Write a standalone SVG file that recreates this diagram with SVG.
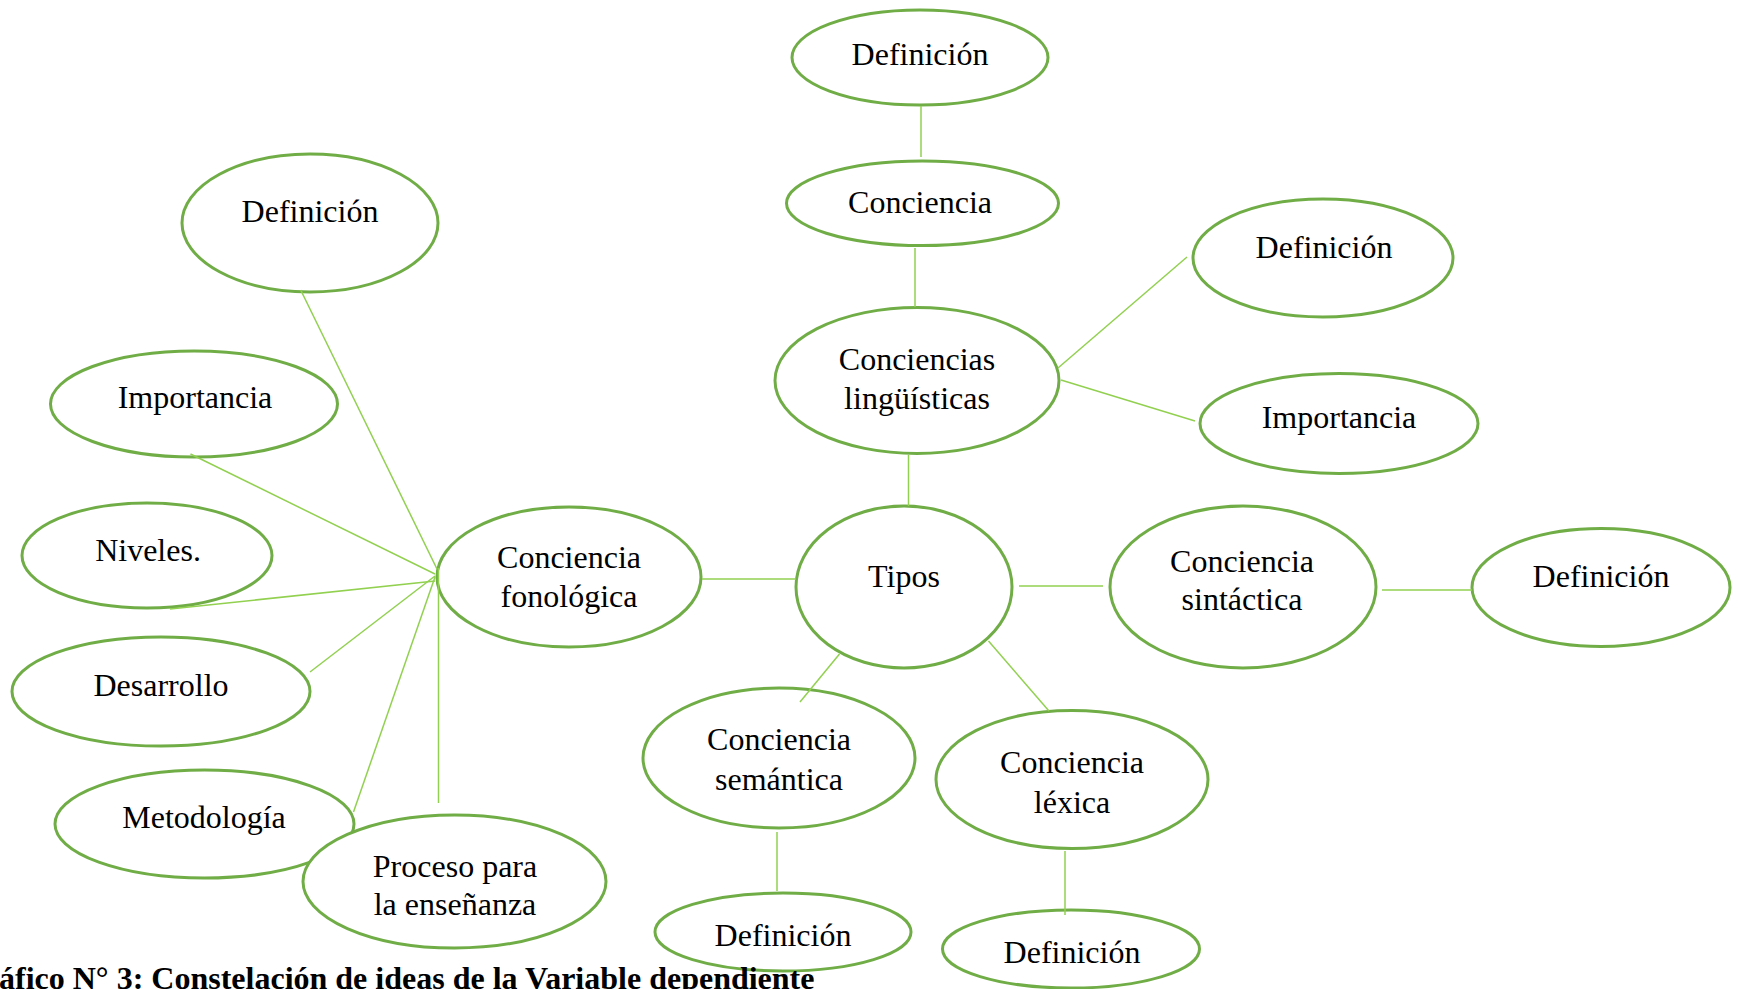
<svg xmlns="http://www.w3.org/2000/svg" width="1738" height="989" viewBox="0 0 1738 989">
<style>
.n ellipse{fill:#ffffff;stroke:#70AD47;stroke-width:3}
.n text{font-family:"Liberation Serif","Times New Roman",serif;font-size:32px;fill:#000000;text-anchor:middle}
.c line{stroke:#92D050;stroke-width:1.5}
.cap{font-family:"Liberation Serif","Times New Roman",serif;font-size:32px;font-weight:bold;fill:#000000}
</style>
<rect x="0" y="0" width="1738" height="989" fill="#ffffff"/>
<g id="nodes">
<g id="def_top" class="n"><ellipse cx="920" cy="57.5" rx="128" ry="47.5"/><text x="920" y="65">Definición</text></g>
<g id="conciencia" class="n"><ellipse cx="922.5" cy="203.3" rx="136" ry="42.3"/><text x="920" y="213">Conciencia</text></g>
<g id="conciencias_ling" class="n"><ellipse cx="917" cy="380.5" rx="142" ry="73"/><text x="917" y="370">Conciencias</text><text x="917" y="409">lingüísticas</text></g>
<g id="def_ling" class="n"><ellipse cx="1323" cy="258" rx="130" ry="59"/><text x="1324" y="258">Definición</text></g>
<g id="imp_ling" class="n"><ellipse cx="1339" cy="423.5" rx="139" ry="50"/><text x="1339" y="428">Importancia</text></g>
<g id="tipos" class="n"><ellipse cx="904" cy="587" rx="108" ry="81"/><text x="904" y="587">Tipos</text></g>
<g id="sintactica" class="n"><ellipse cx="1243" cy="587" rx="133" ry="81"/><text x="1242" y="572">Conciencia</text><text x="1242" y="610">sintáctica</text></g>
<g id="def_sint" class="n"><ellipse cx="1601" cy="587.5" rx="129" ry="59"/><text x="1601" y="587">Definición</text></g>
<g id="fonologica" class="n"><ellipse cx="569" cy="577" rx="132" ry="70"/><text x="569" y="568">Conciencia</text><text x="569" y="607">fonológica</text></g>
<g id="def_fono" class="n"><ellipse cx="310" cy="223" rx="128" ry="69"/><text x="310" y="222">Definición</text></g>
<g id="imp_fono" class="n"><ellipse cx="194" cy="404" rx="143.5" ry="53"/><text x="195" y="408">Importancia</text></g>
<g id="niveles" class="n"><ellipse cx="147" cy="555.5" rx="125" ry="52.5"/><text x="148" y="561">Niveles.</text></g>
<g id="desarrollo" class="n"><ellipse cx="161" cy="691.5" rx="149" ry="54.5"/><text x="161" y="696">Desarrollo</text></g>
<g id="metodologia" class="n"><ellipse cx="204.5" cy="824" rx="149.5" ry="54"/><text x="204" y="828">Metodología</text></g>
<g id="proceso" class="n"><ellipse cx="454.5" cy="881.5" rx="151.5" ry="66.5"/><text x="455" y="877">Proceso para</text><text x="455" y="915">la enseñanza</text></g>
<g id="semantica" class="n"><ellipse cx="779" cy="758" rx="136" ry="70"/><text x="779" y="750">Conciencia</text><text x="779" y="790">semántica</text></g>
<g id="lexica" class="n"><ellipse cx="1072" cy="779.5" rx="136" ry="69"/><text x="1072" y="773">Conciencia</text><text x="1072" y="813">léxica</text></g>
<g id="def_sem" class="n"><ellipse cx="783" cy="932" rx="128" ry="39"/><text x="783" y="946">Definición</text></g>
<g id="def_lex" class="n"><ellipse cx="1071" cy="949" rx="128.5" ry="39"/><text x="1072" y="963">Definición</text></g>
</g>
<g id="connectors" class="c">
<line x1="921" y1="106" x2="921" y2="157"/>
<line x1="915" y1="248" x2="915" y2="307"/>
<line x1="908.5" y1="455" x2="908.5" y2="506"/>
<line x1="1058" y1="368" x2="1187" y2="257"/>
<line x1="1061" y1="380" x2="1195" y2="421"/>
<line x1="702" y1="579" x2="796" y2="579"/>
<line x1="1019" y1="586" x2="1103" y2="586"/>
<line x1="1382" y1="590" x2="1472" y2="590"/>
<line x1="839.5" y1="654" x2="800" y2="702"/>
<line x1="988.5" y1="641" x2="1049" y2="711"/>
<line x1="777" y1="832" x2="777" y2="891"/>
<line x1="1065" y1="851" x2="1065" y2="915"/>
<line x1="300.7" y1="290" x2="437" y2="569"/>
<line x1="190.5" y1="454" x2="435" y2="574"/>
<line x1="170" y1="609" x2="435" y2="581"/>
<line x1="310" y1="672" x2="435" y2="576"/>
<line x1="353.5" y1="812" x2="435" y2="577"/>
<line x1="438.5" y1="568" x2="438.5" y2="803"/>
</g>
<text class="cap" x="-1" y="989">áfico N° 3: Constelación de ideas de la Variable dependiente</text>
</svg>
